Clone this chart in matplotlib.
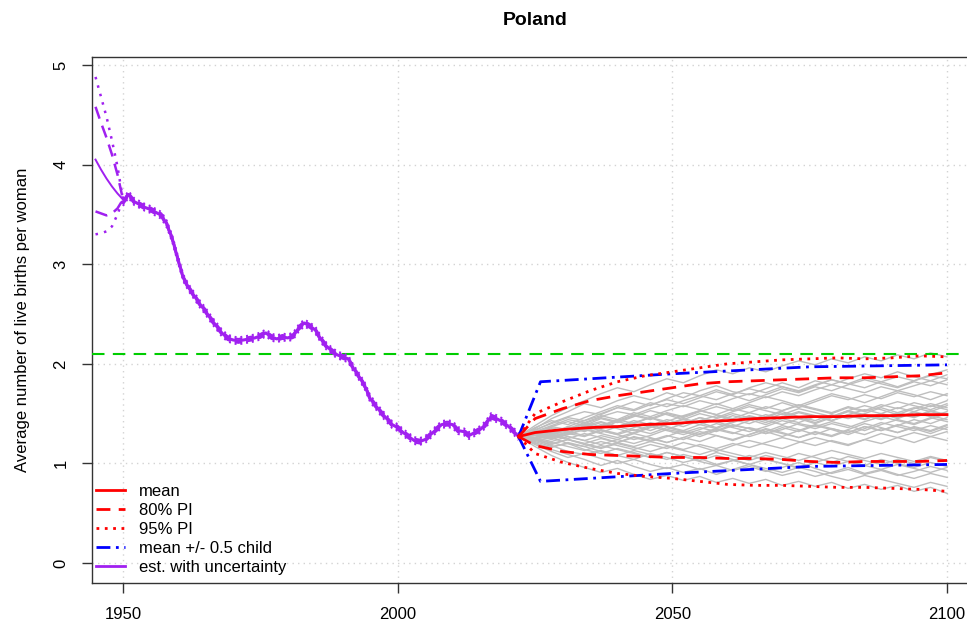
import matplotlib
matplotlib.use("Agg")
import matplotlib.pyplot as plt
from matplotlib.lines import Line2D
import numpy as np

plt.rcParams['font.family'] = ['Liberation Sans', 'DejaVu Sans']

# estimated TFR, Poland 1950-2022
est_years = list(range(1950, 2023))
est_tfr = [3.62, 3.70, 3.63, 3.60, 3.57, 3.55, 3.52, 3.49, 3.40, 3.25,
           3.05, 2.86, 2.76, 2.68, 2.60, 2.53, 2.45, 2.38, 2.31, 2.26,
           2.24, 2.23, 2.24, 2.25, 2.26, 2.28, 2.31, 2.27, 2.25, 2.27,
           2.26, 2.28, 2.36, 2.41, 2.38, 2.34, 2.25, 2.18, 2.13, 2.09,
           2.07, 2.05, 1.95, 1.87, 1.78, 1.65, 1.58, 1.51, 1.45, 1.39,
           1.36, 1.31, 1.27, 1.23, 1.22, 1.24, 1.29, 1.34, 1.39, 1.40,
           1.39, 1.33, 1.32, 1.28, 1.31, 1.34, 1.39, 1.47, 1.45, 1.42,
           1.38, 1.33, 1.27]
est_pi80_half = 0.02
est_pi95_half = 0.035

# back-extrapolated uncertainty 1945-1950
early_years = [1945, 1946, 1947, 1948, 1949, 1950]
early_med = [4.05, 3.95, 3.86, 3.78, 3.71, 3.65]
early_up80 = [4.58, 4.42, 4.27, 4.10, 3.90, 3.65]
early_lo80 = [3.53, 3.51, 3.49, 3.51, 3.56, 3.65]
early_up95 = [4.88, 4.68, 4.48, 4.24, 3.98, 3.65]
early_lo95 = [3.30, 3.31, 3.33, 3.38, 3.50, 3.65]

# projection quantiles
proj_years = [2022, 2025, 2030, 2035, 2040, 2045, 2050, 2055, 2060,
              2065, 2070, 2075, 2080, 2085, 2090, 2095, 2100]
proj_mean = [1.27, 1.31, 1.34, 1.36, 1.37, 1.39, 1.40, 1.42, 1.43,
             1.45, 1.46, 1.47, 1.47, 1.48, 1.48, 1.49, 1.49]
proj_up80 = [1.27, 1.45, 1.55, 1.63, 1.68, 1.72, 1.76, 1.80, 1.82,
             1.83, 1.84, 1.85, 1.86, 1.86, 1.87, 1.88, 1.91]
proj_lo80 = [1.27, 1.18, 1.12, 1.09, 1.08, 1.07, 1.06, 1.06, 1.05,
             1.05, 1.04, 1.02, 1.01, 1.02, 1.02, 1.02, 1.03]
proj_up95 = [1.27, 1.50, 1.62, 1.73, 1.82, 1.88, 1.92, 1.96, 2.00,
             2.02, 2.04, 2.05, 2.06, 2.05, 2.06, 2.08, 2.07]
proj_lo95 = [1.27, 1.10, 1.01, 0.95, 0.90, 0.87, 0.85, 0.82, 0.79,
             0.78, 0.78, 0.77, 0.76, 0.76, 0.75, 0.74, 0.72]

# +/- half child variant
half_years = [2022, 2026, 2050, 2075, 2100]
half_up = [1.27, 1.82, 1.90, 1.97, 1.99]
half_lo = [1.27, 0.82, 0.90, 0.97, 0.99]

replacement = 2.1

# projection trajectories (TFR x 100), every 3 years 2022-2100
traj_years = list(range(2022, 2101, 3))
trajectories = [
    [127, 133, 141, 147, 152, 149, 156, 162, 158, 165, 171, 168, 174, 169, 176, 181, 177, 172, 178, 184, 180, 186, 182, 177, 183, 188, 185],
    [127, 124, 118, 112, 109, 113, 108, 104, 110, 106, 101, 105, 99, 103, 108, 104, 100, 95, 101, 106, 102, 98, 104, 100, 96, 101, 97],
    [127, 130, 136, 131, 138, 142, 137, 141, 146, 140, 144, 139, 145, 150, 146, 141, 147, 152, 148, 143, 149, 154, 150, 145, 151, 147, 152],
    [127, 129, 125, 130, 127, 133, 129, 124, 128, 134, 131, 136, 132, 138, 135, 130, 134, 140, 137, 142, 138, 133, 139, 144, 140, 146, 142],
    [127, 135, 145, 152, 160, 156, 163, 168, 164, 171, 166, 173, 178, 172, 169, 175, 181, 176, 183, 179, 185, 190, 186, 192, 187, 183, 189],
    [127, 121, 114, 109, 104, 98, 103, 97, 92, 96, 91, 95, 89, 94, 99, 93, 88, 92, 87, 91, 96, 90, 94, 89, 85, 90, 86],
    [127, 131, 128, 134, 139, 135, 142, 138, 133, 139, 145, 141, 136, 142, 148, 144, 150, 146, 141, 147, 153, 149, 145, 151, 156, 152, 148],
    [127, 126, 131, 127, 123, 128, 124, 130, 126, 121, 126, 132, 128, 123, 129, 135, 131, 126, 132, 128, 134, 140, 136, 131, 137, 133, 139],
    [127, 134, 129, 137, 143, 148, 144, 151, 147, 153, 158, 154, 160, 155, 161, 167, 163, 158, 164, 170, 166, 161, 167, 173, 169, 164, 170],
    [127, 123, 126, 120, 117, 122, 118, 114, 119, 115, 121, 117, 112, 118, 123, 119, 115, 121, 126, 122, 118, 124, 120, 126, 131, 127, 123],
    [127, 129, 137, 142, 138, 145, 141, 147, 153, 149, 144, 150, 146, 152, 157, 153, 149, 155, 151, 147, 153, 158, 154, 149, 155, 160, 156],
    [127, 125, 120, 124, 119, 115, 120, 116, 112, 117, 113, 109, 114, 110, 106, 111, 107, 103, 108, 113, 109, 105, 110, 106, 102, 107, 103],
    [127, 132, 138, 144, 141, 147, 152, 149, 155, 160, 157, 163, 159, 165, 170, 166, 172, 168, 174, 179, 175, 171, 177, 173, 178, 183, 179],
    [127, 128, 124, 129, 134, 130, 126, 131, 137, 133, 129, 134, 140, 136, 132, 137, 143, 139, 135, 140, 136, 142, 147, 143, 139, 145, 150],
    [127, 120, 116, 121, 117, 112, 108, 113, 109, 104, 109, 105, 111, 107, 103, 108, 104, 110, 106, 101, 107, 103, 99, 104, 100, 106, 102],
    [127, 133, 130, 136, 132, 138, 144, 140, 146, 142, 148, 153, 149, 145, 151, 147, 153, 158, 154, 150, 156, 152, 157, 162, 158, 154, 160],
    [127, 130, 126, 131, 136, 141, 137, 143, 139, 134, 140, 146, 142, 148, 144, 139, 145, 151, 147, 143, 149, 145, 150, 156, 152, 158, 154],
    [127, 124, 129, 125, 130, 126, 121, 127, 123, 128, 124, 130, 135, 131, 127, 132, 138, 134, 129, 135, 131, 137, 133, 139, 135, 130, 136],
    [127, 136, 143, 139, 146, 152, 158, 154, 161, 157, 163, 168, 164, 170, 175, 171, 177, 173, 179, 184, 180, 176, 182, 187, 183, 189, 194],
    [127, 122, 117, 120, 114, 110, 115, 111, 106, 111, 107, 103, 108, 104, 99, 104, 100, 96, 101, 97, 102, 98, 94, 99, 95, 91, 96],
    [127, 128, 133, 129, 135, 131, 137, 133, 138, 144, 140, 146, 142, 137, 143, 149, 145, 141, 147, 143, 148, 144, 150, 146, 152, 148, 144],
    [127, 126, 122, 127, 123, 119, 124, 120, 125, 121, 126, 122, 128, 124, 129, 134, 130, 126, 131, 127, 133, 129, 135, 131, 136, 132, 138],
    [127, 131, 137, 134, 140, 146, 142, 148, 144, 150, 146, 152, 157, 153, 159, 155, 161, 156, 162, 168, 164, 169, 165, 171, 167, 172, 168],
    [127, 125, 128, 124, 120, 125, 121, 126, 122, 127, 133, 129, 134, 130, 136, 132, 127, 133, 139, 135, 131, 137, 133, 138, 144, 140, 146],
    [127, 119, 112, 106, 110, 105, 100, 104, 99, 95, 99, 94, 98, 93, 97, 92, 96, 101, 95, 90, 94, 89, 93, 88, 92, 97, 93],
    [127, 134, 140, 146, 143, 150, 156, 153, 159, 164, 160, 166, 172, 168, 163, 169, 175, 171, 177, 173, 179, 184, 180, 176, 182, 178, 184],
    [127, 130, 127, 132, 128, 134, 130, 136, 141, 137, 133, 139, 135, 141, 147, 143, 139, 145, 140, 146, 152, 148, 144, 150, 146, 152, 158],
    [127, 123, 119, 124, 120, 116, 121, 117, 122, 118, 114, 119, 115, 120, 116, 121, 126, 122, 118, 123, 119, 124, 130, 126, 121, 127, 132],
    [127, 129, 135, 131, 137, 133, 129, 134, 130, 136, 132, 127, 133, 139, 135, 130, 136, 132, 138, 134, 129, 135, 141, 137, 133, 138, 134],
    [127, 126, 131, 137, 133, 139, 135, 130, 136, 141, 137, 143, 148, 144, 140, 146, 152, 147, 143, 149, 145, 150, 156, 151, 147, 153, 149],
    [127, 117, 108, 101, 96, 91, 95, 89, 84, 88, 83, 87, 81, 85, 80, 84, 78, 82, 77, 81, 75, 79, 74, 78, 72, 76, 70],
    [127, 138, 148, 156, 163, 170, 176, 172, 179, 185, 181, 188, 194, 190, 196, 192, 198, 203, 199, 205, 201, 207, 203, 209, 205, 211, 207],
    [127, 124, 121, 117, 113, 118, 114, 110, 106, 111, 107, 102, 98, 103, 99, 95, 91, 96, 92, 87, 83, 88, 84, 80, 76, 81, 77],
    [127, 132, 129, 135, 141, 137, 143, 149, 145, 151, 147, 153, 149, 155, 151, 157, 153, 159, 155, 151, 157, 153, 159, 155, 161, 157, 163],
]

RED = '#FF0000'
BLUE = '#0000FF'
GREEN = '#00CD00'
PURPLE = '#A020F0'
GRAY = '#BEBEBE'

fig = plt.figure(figsize=(9.67, 6.21), dpi=100)
ax = fig.add_axes([92 / 967, 1 - 583 / 621, (978 - 92) / 967, (583 - 57) / 621])

# trajectories
for tr in trajectories:
    ax.plot(traj_years, np.array(tr) / 100.0, color=GRAY, lw=1.0, zorder=2)

# estimation period
est = np.array(est_tfr)
ax.plot(est_years, est, color=PURPLE, lw=2.2, zorder=4)
for off in (est_pi80_half, -est_pi80_half):
    ax.plot(est_years, est + off, color=PURPLE, lw=1.4, ls=(0, (4, 2)), zorder=4)
for off in (est_pi95_half, -est_pi95_half):
    ax.plot(est_years, est + off, color=PURPLE, lw=1.4, ls=(0, (1, 2)), zorder=4)

ax.plot(early_years, early_med, color=PURPLE, lw=1.4, zorder=4)
ax.plot(early_years, early_up80, color=PURPLE, lw=1.8, ls=(0, (5, 3)), zorder=4)
ax.plot(early_years, early_lo80, color=PURPLE, lw=1.8, ls=(0, (5, 3)), zorder=4)
ax.plot(early_years, early_up95, color=PURPLE, lw=1.8, ls=(0, (1, 2.5)), zorder=4)
ax.plot(early_years, early_lo95, color=PURPLE, lw=1.8, ls=(0, (1, 2.5)), zorder=4)

# projections
ax.plot(half_years, half_up, color=BLUE, lw=2, ls=(0, (5, 2, 1, 2)), zorder=5)
ax.plot(half_years, half_lo, color=BLUE, lw=2, ls=(0, (5, 2, 1, 2)), zorder=5)
ax.plot(proj_years, proj_up95, color=RED, lw=2, ls=(0, (1, 2)), zorder=6)
ax.plot(proj_years, proj_lo95, color=RED, lw=2, ls=(0, (1, 2)), zorder=6)
ax.plot(proj_years, proj_up80, color=RED, lw=2, ls=(0, (5, 3)), zorder=6)
ax.plot(proj_years, proj_lo80, color=RED, lw=2, ls=(0, (5, 3)), zorder=6)
ax.plot(proj_years, proj_mean, color=RED, lw=2, zorder=7)

ax.axhline(replacement, color=GREEN, lw=1.5, ls=(0, (6, 4)), zorder=3)

ax.set_xlim(1944.36, 2105.64)
ax.set_ylim(-0.2, 5.08)
ax.set_xticks([1950, 2000, 2050, 2100])
ax.set_yticks([0, 1, 2, 3, 4, 5])
ax.grid(True, color='#D3D3D3', ls=(0, (1, 3)), lw=1)
ax.set_axisbelow(True)
for s in ax.spines.values():
    s.set_color('#333333')
    s.set_linewidth(1)
ax.tick_params(direction='out', length=7, width=1, color='#333333',
               labelsize=12, pad=10)
for lab in ax.get_yticklabels():
    lab.set_rotation(90)
    lab.set_va('center')
ax.set_ylabel('Average number of live births per woman', fontsize=12, labelpad=17)
ax.set_title('Poland', fontsize=14, fontweight='bold', pad=23)

handles = [
    Line2D([], [], color=RED, lw=2),
    Line2D([], [], color=RED, lw=2, ls=(0, (5, 3))),
    Line2D([], [], color=RED, lw=2, ls=(0, (1, 2))),
    Line2D([], [], color=BLUE, lw=2, ls=(0, (5, 2, 1, 2))),
    Line2D([], [], color=PURPLE, lw=2),
]
labels = ['mean', '80% PI', '95% PI', 'mean +/- 0.5 child', 'est. with uncertainty']
ax.legend(handles, labels, loc='lower left', frameon=False, fontsize=12,
          handlelength=1.75, handletextpad=0.8, labelspacing=0.24,
          borderaxespad=0.0, bbox_to_anchor=(-0.003, 0.003))

fig.savefig('out.png', dpi=100)
